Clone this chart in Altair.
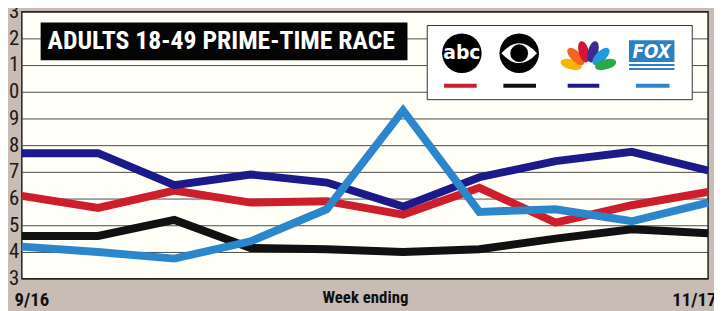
import math
import altair as alt
import pandas as pd

# ---------------- data ----------------
weeks = ["9/16", "9/23", "9/30", "10/7", "10/14", "10/21", "10/28", "11/4", "11/11", "11/17"]
networks = ["ABC", "CBS", "NBC", "FOX"]
abc = [6.1, 5.65, 6.3, 5.85, 5.9, 5.4, 6.4, 5.1, 5.75, 6.25]
cbs = [4.6, 4.6, 5.2, 4.15, 4.1, 4.0, 4.1, 4.5, 4.85, 4.7]
nbc = [7.7, 7.7, 6.5, 6.9, 6.6, 5.7, 6.8, 7.4, 7.75, 7.05]
fox = [4.2, 4.0, 3.75, 4.4, 5.6, 9.3, 5.5, 5.6, 5.15, 5.85]
y_ticks = list(range(3, 14))
net_colors = ["#cc1f2b", "#111111", "#1c1a8a", "#2b86cc"]
title_text = "ADULTS 18-49 PRIME-TIME RACE"
x_title = "Week ending"

rows = []
for net, vals in zip(networks, [abc, cbs, nbc, fox]):
    for i, (w, v) in enumerate(zip(weeks, vals)):
        rows.append({"network": net, "week": w, "idx": i, "rating": v})
df = pd.DataFrame(rows)

NARROW = "Roboto Condensed, Liberation Sans, sans-serif"

x_enc = alt.X(
    "idx:Q",
    scale=alt.Scale(domain=[0, len(weeks) - 1], nice=False, zero=False),
    axis=alt.Axis(
        values=[0, len(weeks) - 1],
        labelExpr=f"datum.value == 0 ? '{weeks[0]}' : '{weeks[-1]}'",
        grid=False, ticks=False, domain=False,
        labelFont=NARROW, labelFontSize=19, labelFontWeight="bold", labelColor="#111",
        labelBaseline="middle", labelPadding=21, labelFlush=True, labelFlushOffset=8,
        title=x_title, titleFont=NARROW, titleFontSize=17, titleFontWeight="bold",
        titleColor="#111", titleY=19, titleBaseline="middle",
    ),
)
y_enc = alt.Y(
    "rating:Q",
    scale=alt.Scale(domain=[3, 13], nice=False, zero=False),
    axis=alt.Axis(
        values=y_ticks, grid=True, gridColor="#2a2a2a", gridWidth=1, gridOpacity=0.85,
        ticks=False, domain=False, labelFont=NARROW, labelFontSize=21,
        labelColor="#1a1a1a", labelPadding=3, title=None,
    ),
)

layers = []
for net, col in zip(networks, net_colors):
    layers.append(
        alt.Chart(df)
        .transform_filter(alt.datum.network == net)
        .mark_line(strokeWidth=8, strokeJoin="miter", strokeCap="butt", color=col)
        .encode(x=x_enc, y=y_enc, order="idx:Q")
    )

one = pd.DataFrame({"k": [0]})


def rect(x1, x2, y1, y2, **kw):
    return alt.Chart(one).mark_rect(**kw).encode(
        x=alt.value(x1), x2=alt.value(x2), y=alt.value(y1), y2=alt.value(y2))


def text(x, y, t, **kw):
    return alt.Chart(one).mark_text(text=t, **kw).encode(x=alt.value(x), y=alt.value(y))


def point(x, y, **kw):
    return alt.Chart(one).mark_point(**kw).encode(x=alt.value(x), y=alt.value(y))


# title box
layers.append(rect(19, 390, 11, 49, color="#050505"))
layers.append(text(26, 30, title_text, font=NARROW, fontSize=26, fontWeight="bold",
                   color="white", align="left", baseline="middle"))

# legend box
layers.append(rect(410, 678, 14, 89, fill="white", stroke="#333", strokeWidth=1))

# abc logo
layers.append(point(445, 42, shape="circle", size=1600, filled=True, color="#000", opacity=1))
layers.append(text(445, 42, "abc", font="DejaVu Sans", fontSize=19, fontWeight="bold",
                   color="white", align="center", baseline="middle"))

# CBS logo
LENS = "M -1 0 Q 0 -1.11 1 0 Q 0 1.11 -1 0 Z"
layers.append(point(503, 42, shape="circle", size=1600, filled=True, color="#000", opacity=1))
layers.append(point(503, 42, shape=LENS, size=1296, filled=True, color="#fff", opacity=1))
layers.append(point(503, 42, shape="circle", size=324, filled=True, color="#000", opacity=1))

# NBC peacock
FEATHER = "M 0 -1 C 0.62 -1 0.62 1 0 1 C -0.62 1 -0.62 -1 0 -1 Z"
feather_cols = ["#f7b500", "#f26522", "#d8143a", "#3b2d8f", "#1f9be0", "#2aa84a"]
feather_angles = [-75, -45, -15, 15, 45, 75]
cx, cy, rr = 573, 58, 18
for fc, a in zip(feather_cols, feather_angles):
    rad = math.radians(a)
    layers.append(point(cx + rr * math.sin(rad), cy - rr * math.cos(rad), shape=FEATHER,
                        size=484, filled=True, color=fc, opacity=1, angle=a % 360))

# FOX logo
layers.append(rect(614, 660, 29, 51, color="#2b7fc3"))
layers.append(text(637, 41, "FOX", font="DejaVu Sans Condensed", fontSize=19,
                   fontWeight="bold", fontStyle="italic", color="white",
                   align="center", baseline="middle"))
layers.append(rect(614, 660, 53, 55, color="#2b7fc3"))
layers.append(rect(614, 660, 57, 59, color="#2b7fc3"))

# legend swatches
sw = [(427, 460), (487, 520), (552, 584), (621, 655)]
for (a, b), col in zip(sw, net_colors):
    layers.append(rect(a, b, 73, 77, color=col))

chart = (
    alt.layer(*layers)
    .properties(
        width=694, height=270,
        autosize=alt.AutoSizeParams(type="none"),
        padding={"left": 14, "top": 2, "right": 6, "bottom": 31},
    )
    .configure(background="#c8bcb5")
    .configure_view(fill="#fffff8", stroke="#222", strokeWidth=1.5)
)

chart.save("out.html", embed_options={"renderer": "svg", "actions": False})
